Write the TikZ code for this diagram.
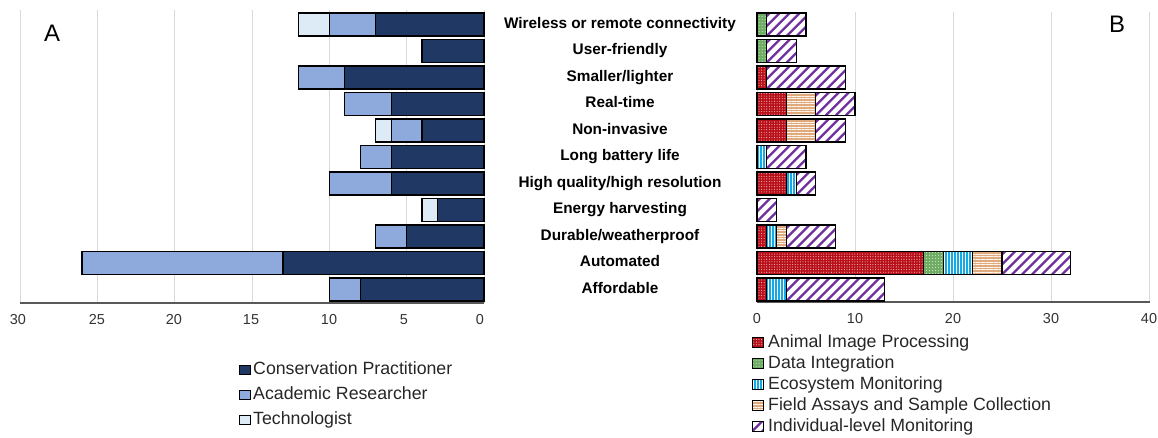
\documentclass[tikz,border=0pt]{standalone}
\usepackage{fontspec}
\setmainfont{Liberation Sans}
\usetikzlibrary{patterns.meta}
\definecolor{cpc}{RGB}{31,56,100}
\definecolor{arc}{RGB}{142,169,219}
\definecolor{tcc}{RGB}{221,235,247}
\definecolor{aipc}{RGB}{185,15,25}
\definecolor{dic}{RGB}{112,173,100}
\definecolor{ecoc}{RGB}{20,170,230}
\definecolor{fac}{RGB}{225,170,125}
\definecolor{indc}{RGB}{112,48,160}
\definecolor{gridc}{RGB}{217,217,217}
\definecolor{axisc}{RGB}{89,89,89}
\tikzset{
  barseg/.style={draw=black, line width=1.3bp},
  cpbar/.style={barseg, fill=cpc},
  arbar/.style={barseg, fill=arc},
  tcbar/.style={barseg, fill=tcc},
  aipbar/.style={barseg, preaction={fill=aipc}, pattern={Dots[radius=0.55pt,distance=2.6pt]}, pattern color=white!75!aipc},
  dibar/.style={barseg, preaction={fill=dic}, pattern={Dots[radius=0.5pt,distance=3pt]}, pattern color=white!75!dic},
  ecobar/.style={barseg, preaction={fill=ecoc}, pattern={Lines[angle=90,distance=3pt,line width=0.9pt]}, pattern color=white},
  fabar/.style={barseg, preaction={fill=fac}, pattern={Lines[angle=0,distance=2.6pt,line width=0.7pt]}, pattern color=white!90!fac},
  indbar/.style={barseg, fill=white, path picture={
      \foreach \s in {0,10,...,130}{
        \draw[indc, line width=2.3bp]
          ([xshift=\s bp-30bp]path picture bounding box.south west) -- ++(45:60bp);
      }}},
  gridline/.style={draw=gridc, line width=1bp},
  axisline/.style={draw=axisc, line width=1.5bp},
  ticklab/.style={anchor=base, inner sep=0pt, font=\fontsize{14.5}{16}\selectfont, text=black!80},
  catlab/.style={anchor=base, inner sep=0pt, font=\bfseries\fontsize{15.4}{18}\selectfont},
  leglab/.style={anchor=base west, inner sep=0pt, font=\fontsize{17.8}{20}\selectfont, text=black!85},
  panel/.style={anchor=base, inner sep=0pt, font=\fontsize{24}{28}\selectfont},
  legbox/.style={line width=1bp}
}
\begin{document}
\begin{tikzpicture}[x=1bp,y=-1bp]
\useasboundingbox (0,0) rectangle (1158,438);
% ---------- Panel A grid and axis
\foreach \k/\l in {0/0,1/5,2/10,3/15,4/20,5/25,6/30}{
  \draw[gridline] ({484-77.33*\k},10) -- ({484-77.33*\k},303);
}
\foreach \k/\l/\px in {0/0/480,1/5/404,2/10/329,3/15/251,4/20/174,5/25/97,6/30/18}{
  \node[ticklab] (ta\k) at (\px,325) {\l};
}
\draw[axisline] (20,303) -- (484,303);
% ---------- Panel B grid and axis
\foreach \k/\l in {0/0,1/10,2/20,3/30,4/40}{
  \draw[gridline] ({757+98*\k},12) -- ({757+98*\k},302);
  \node[ticklab] (tb\k) at ({757+98*\k},324) {\l};
}
\draw[axisline] (757,302) -- (1150,302);
% ---------- Panel A bars
\foreach \i/\c/\a/\t in {0/7/3/2,1/4/0/0,2/9/3/0,3/6/3/0,4/4/2/1,5/6/2/0,6/6/4/0,7/3/0/1,8/5/2/0,9/13/13/0,10/8/2/0}{
  \pgfmathsetmacro{\yt}{13+26.5*\i}
  \pgfmathsetmacro{\yb}{\yt+23}
  \edef\sa{\the\numexpr\c+\a\relax}
  \edef\sb{\the\numexpr\c+\a+\t\relax}
  \ifnum\c>0 \draw[cpbar] (484,\yt) rectangle ({484-15.467*\c},\yb);\fi
  \ifnum\a>0 \draw[arbar] ({484-15.467*\c},\yt) rectangle ({484-15.467*\sa},\yb);\fi
  \ifnum\t>0 \draw[tcbar] ({484-15.467*\sa},\yt) rectangle ({484-15.467*\sb},\yb);\fi
}
% ---------- Panel B bars
\foreach \i/\a/\d/\e/\f/\n in {0/0/1/0/0/4,1/0/1/0/0/3,2/1/0/0/0/8,3/3/0/0/3/4,4/3/0/0/3/3,5/0/0/1/0/4,6/3/0/1/0/2,7/0/0/0/0/2,8/1/0/1/1/5,9/17/2/3/3/7,10/1/0/2/0/10}{
  \pgfmathsetmacro{\yt}{13+26.5*\i}
  \pgfmathsetmacro{\yb}{\yt+23}
  \edef\sA{\the\numexpr\a\relax}
  \edef\sB{\the\numexpr\a+\d\relax}
  \edef\sC{\the\numexpr\a+\d+\e\relax}
  \edef\sD{\the\numexpr\a+\d+\e+\f\relax}
  \edef\sE{\the\numexpr\a+\d+\e+\f+\n\relax}
  \ifnum\a>0 \draw[aipbar] (757,\yt) rectangle ({757+9.8*\sA},\yb);\fi
  \ifnum\d>0 \draw[dibar] ({757+9.8*\sA},\yt) rectangle ({757+9.8*\sB},\yb);\fi
  \ifnum\e>0 \draw[ecobar] ({757+9.8*\sB},\yt) rectangle ({757+9.8*\sC},\yb);\fi
  \ifnum\f>0 \draw[fabar] ({757+9.8*\sC},\yt) rectangle ({757+9.8*\sD},\yb);\fi
  \ifnum\n>0 \draw[indbar] ({757+9.8*\sD},\yt) rectangle ({757+9.8*\sE},\yb);\fi
}
% ---------- Category labels
\foreach \i/\txt in {0/{Wireless or remote connectivity},1/{User-friendly},2/{Smaller/lighter},3/{Real-time},4/{Non-invasive},5/{Long battery life},6/{High quality/high resolution},7/{Energy harvesting},8/{Durable/weatherproof},9/{Automated},10/{Affordable}}{
  \node[catlab] (cat\i) at (620,{28.3+26.5*\i}) {\txt};
}
% ---------- Panel letters
\node[panel] (pA) at (52,42) {A};
\node[panel] (pB) at (1117,33) {B};
% ---------- Legend A
\foreach \j/\sty/\txt in {0/cpbar/Conservation Practitioner,1/arbar/Academic Researcher,2/tcbar/Technologist}{
  \draw[\sty,legbox] (239,{366+25*\j}) rectangle (250,{375+25*\j});
  \node[leglab] (la\j) at (253,{375+25*\j}) {\txt};
}
% ---------- Legend B
\foreach \j/\sty/\txt in {0/aipbar/Animal Image Processing,1/dibar/Data Integration,2/ecobar/Ecosystem Monitoring,3/fabar/Field Assays and Sample Collection,4/indbar/Individual-level Monitoring}{
  \draw[\sty,legbox] (752,{338+21*\j}) rectangle (763,{347.5+21*\j});
  \node[leglab] (lb\j) at (768,{347.5+21*\j}) {\txt};
}
\end{tikzpicture}
\end{document}
